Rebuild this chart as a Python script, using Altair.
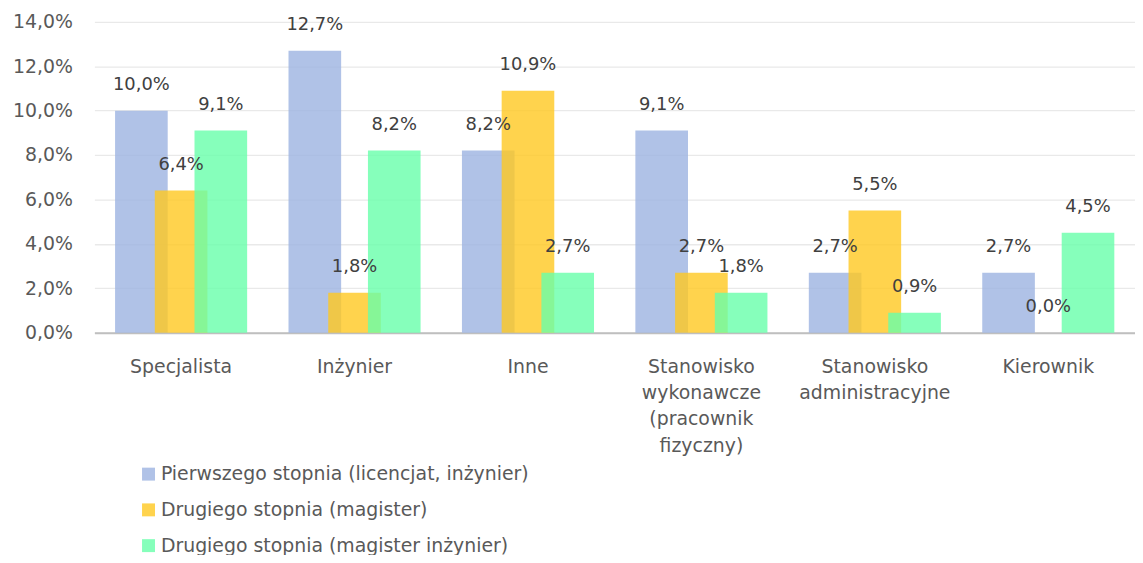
import altair as alt
import pandas as pd

categories = ["Specjalista", "Inżynier", "Inne",
              "Stanowisko\nwykonawcze\n(pracownik\nfizyczny)",
              "Stanowisko\nadministracyjne", "Kierownik"]
series = ["Pierwszego stopnia (licencjat, inżynier)",
          "Drugiego stopnia (magister)",
          "Drugiego stopnia (magister inżynier)"]
pierwszego = [10.0, 12.7, 8.2, 9.1, 2.7, 2.7]
magister = [6.4, 1.8, 10.9, 2.7, 5.5, 0.0]
mag_inz = [9.1, 8.2, 2.7, 1.8, 0.9, 4.5]
colors = ["#9cb3e1", "#ffc820", "#68ffaa"]

rows = []
for s, vals in zip(series, [pierwszego, magister, mag_inz]):
    for c, v in zip(categories, vals):
        rows.append({"cat": c, "series": s, "value": v / 100})
df = pd.DataFrame(rows)

FONT = "DejaVu Sans"
FS = 19

x = alt.X("cat:N", sort=categories, title=None,
          scale=alt.Scale(paddingInner=0, paddingOuter=0),
          axis=alt.Axis(labelAngle=0, labelExpr="split(datum.label, '\\n')",
                        labelLineHeight=26.5, labelFontSize=FS, labelColor="#595959",
                        labelFont=FONT, ticks=False, labelPadding=25,
                        domainColor="#bfbfbf", domainWidth=2, grid=False))
xo = alt.XOffset("series:N", sort=series,
                 scale=alt.Scale(paddingInner=0, paddingOuter=0.683))

base = alt.Chart(df)

bars = base.mark_bar(width=53, opacity=0.8).encode(
    x=x, xOffset=xo,
    y=alt.Y("value:Q", title=None,
            scale=alt.Scale(domain=[0, 0.14], nice=False),
            axis=alt.Axis(values=[0, 0.02, 0.04, 0.06, 0.08, 0.10, 0.12, 0.14],
                          labelExpr="replace(format(datum.value, '.1%'), '.', ',')",
                          labelFontSize=FS, labelColor="#595959", labelFont=FONT,
                          domain=False, ticks=False, labelPadding=22,
                          gridColor="#e9e9e9", gridWidth=1.3)),
    color=alt.Color("series:N", sort=series,
                    scale=alt.Scale(domain=series, range=colors),
                    legend=alt.Legend(title=None, orient="none", legendX=45, legendY=446,
                                      direction="vertical", symbolType="square",
                                      symbolSize=170, symbolOpacity=0.8,
                                      labelFontSize=FS, labelColor="#595959", labelFont=FONT,
                                      labelLimit=0, rowPadding=16, labelOffset=3,
                                      symbolStrokeWidth=0)),
    order=alt.Order("series_idx:Q"),
).transform_calculate(series_idx="indexof(['%s','%s','%s'], datum.series)" % tuple(series))

labels = base.mark_text(baseline="middle", dy=-26, fontSize=18, font=FONT,
                        color="#404040").encode(
    x=x, xOffset=xo,
    y=alt.Y("value:Q"),
    text=alt.Text("label:N"),
).transform_calculate(label="replace(format(datum.value, '.1%'), '.', ',')")

chart = alt.layer(bars, labels).properties(
    width=1048, height=313,
    autosize=alt.AutoSizeParams(type="none"),
    padding={"left": 87, "top": 12, "right": 0, "bottom": 222},
).configure_view(stroke=None)

chart.save("out.html", embed_options={"renderer": "svg", "actions": False})
